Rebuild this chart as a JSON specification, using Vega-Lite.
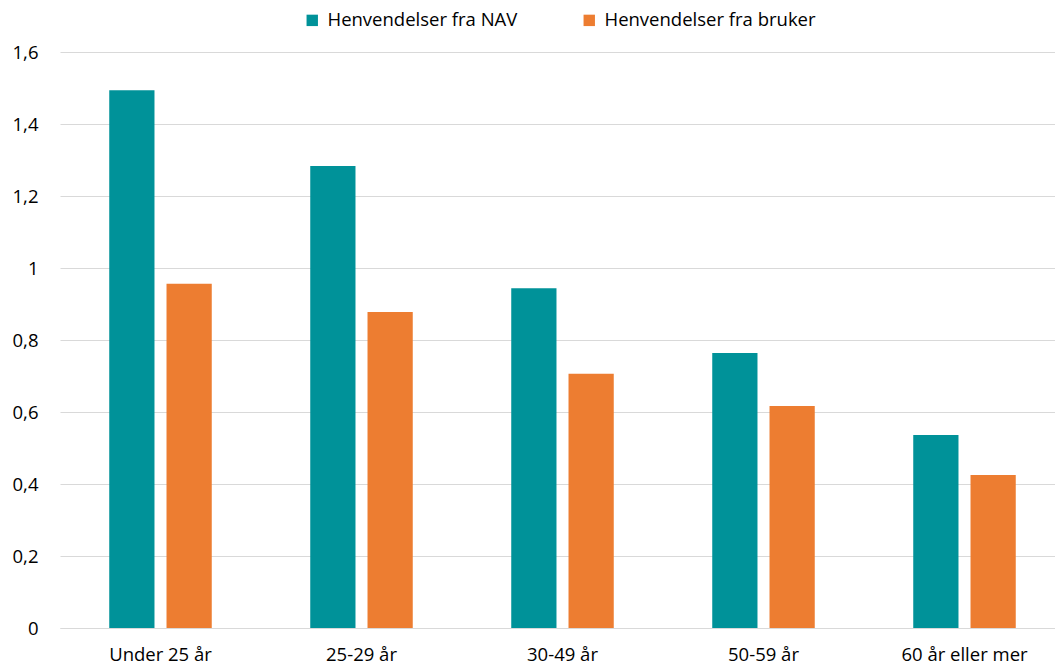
{
  "$schema": "https://vega.github.io/schema/vega-lite/v6.json",
  "width": 1005,
  "height": 576,
  "autosize": {"type": "none"},
  "padding": {"left": 60, "top": 52, "right": 0, "bottom": 38},
  "background": "white",
  "data": {"values": [
    {"alder": "Under 25 år", "serie": "Henvendelser fra NAV", "verdi": 1.494},
    {"alder": "Under 25 år", "serie": "Henvendelser fra bruker", "verdi": 0.956},
    {"alder": "25-29 år", "serie": "Henvendelser fra NAV", "verdi": 1.283},
    {"alder": "25-29 år", "serie": "Henvendelser fra bruker", "verdi": 0.878},
    {"alder": "30-49 år", "serie": "Henvendelser fra NAV", "verdi": 0.944},
    {"alder": "30-49 år", "serie": "Henvendelser fra bruker", "verdi": 0.706},
    {"alder": "50-59 år", "serie": "Henvendelser fra NAV", "verdi": 0.764},
    {"alder": "50-59 år", "serie": "Henvendelser fra bruker", "verdi": 0.617},
    {"alder": "60 år eller mer", "serie": "Henvendelser fra NAV", "verdi": 0.536},
    {"alder": "60 år eller mer", "serie": "Henvendelser fra bruker", "verdi": 0.425}
  ]},
  "mark": {"type": "bar"},
  "encoding": {
    "x": {
      "field": "alder", "type": "nominal", "sort": null,
      "scale": {"paddingInner": 0.49, "paddingOuter": 0.245},
      "axis": {"title": null, "labelAngle": 0, "ticks": false, "domainColor": "#d9d9d9", "domainWidth": 1,
               "labelFont": "Open Sans", "labelFontSize": 18.5, "labelColor": "#000000", "labelPadding": 17}
    },
    "xOffset": {
      "field": "serie", "type": "nominal",
      "sort": ["Henvendelser fra NAV", "Henvendelser fra bruker"],
      "scale": {"paddingInner": 0.21, "paddingOuter": 0}
    },
    "y": {
      "field": "verdi", "type": "quantitative",
      "scale": {"domain": [0, 1.6], "nice": false},
      "axis": {"title": null, "values": [0, 0.2, 0.4, 0.6, 0.8, 1, 1.2, 1.4, 1.6],
               "labelExpr": "replace(format(datum.value, '~g'), '.', ',')",
               "domain": false, "ticks": false, "gridColor": "#d9d9d9", "gridWidth": 1,
               "labelFont": "Open Sans", "labelFontSize": 18.5, "labelColor": "#000000", "labelPadding": 22}
    },
    "color": {
      "field": "serie", "type": "nominal",
      "sort": ["Henvendelser fra NAV", "Henvendelser fra bruker"],
      "scale": {"domain": ["Henvendelser fra NAV", "Henvendelser fra bruker"], "range": ["#009299", "#ED7D31"]},
      "legend": {"title": null, "orient": "none", "direction": "horizontal", "legendX": 243, "legendY": -41,
                 "symbolType": "square", "symbolSize": 130, "symbolStrokeWidth": 0, "symbolOpacity": 1,
                 "labelFont": "Open Sans", "labelFontSize": 18.5, "labelColor": "#000000", "labelLimit": 400,
                 "columnPadding": 62, "labelOffset": 6}
    }
  },
  "config": {"view": {"stroke": null}}
}
